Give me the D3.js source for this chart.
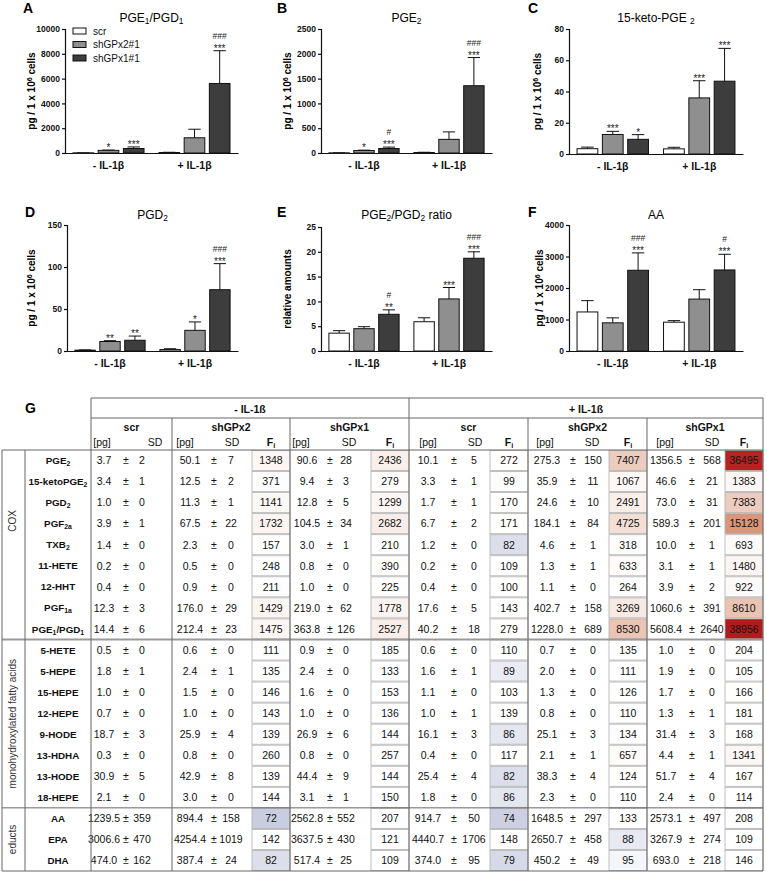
<!DOCTYPE html>
<html><head><meta charset="utf-8">
<script src="https://cdn.jsdelivr.net/npm/d3@7"></script>
<style>
body{margin:0;background:#fff;}
svg{font-family:"Liberation Sans",Arial,sans-serif;}
</style></head><body>
<svg id="c" width="767" height="873"></svg>
<script>
// ---------- chart data ----------
const groups = ["- IL-1β", "+ IL-1β"];
const series = ["scr", "shGPx2#1", "shGPx1#1"];
const seriesColors = ["#ffffff", "#8f8f8f", "#3d3d3d"];

const pge1Mean = [[14.4, 212.4, 363.8], [40.2, 1228.0, 5608.4]];
const pge1Sd   = [[6, 23, 126], [18, 689, 2640]];
const pge1Ticks = [0, 2000, 4000, 6000, 8000, 10000];
const pge1Sig = [[["",""],["*",""],["***",""]],[["",""],["",""],["***","###"]]];

const pge2Mean = [[3.7, 50.1, 90.6], [10.1, 275.3, 1356.5]];
const pge2Sd   = [[2, 7, 28], [5, 150, 568]];
const pge2Ticks = [0, 500, 1000, 1500, 2000, 2500];
const pge2Sig = [[["",""],["*",""],["***","#"]],[["",""],["",""],["***","###"]]];

const ketoMean = [[3.4, 12.5, 9.4], [3.3, 35.9, 46.6]];
const ketoSd   = [[1, 2, 3], [1, 11, 21]];
const ketoTicks = [0, 20, 40, 60, 80];
const ketoSig = [[["",""],["***",""],["*",""]],[["",""],["***",""],["***",""]]];

const pgd2Mean = [[1.0, 11.3, 12.8], [1.7, 24.6, 73.0]];
const pgd2Sd   = [[0.3, 1, 5], [1, 10, 31]];
const pgd2Ticks = [0, 50, 100, 150];
const pgd2Sig = [[["",""],["**",""],["**",""]],[["",""],["*",""],["***","###"]]];

const ratioMean = [[3.6, 4.5, 7.4], [5.9, 10.5, 18.7]];
const ratioSd   = [[0.5, 0.4, 0.9], [0.8, 2.3, 1.3]];
const ratioTicks = [0, 5, 10, 15, 20, 25];
const ratioSig = [[["",""],["",""],["**","#"]],[["",""],["***",""],["***","###"]]];

const aaMean = [[1239.5, 894.4, 2562.8], [914.7, 1648.5, 2573.1]];
const aaSd   = [[359, 158, 552], [50, 297, 497]];
const aaTicks = [0, 1000, 2000, 3000, 4000];
const aaSig = [[["",""],["",""],["***","###"]],[["",""],["",""],["***","#"]]];

// ---------- table data ----------
const rowNames = ["PGE_{2}","15-ketoPGE_{2}","PGD_{2}","PGF_{2a}","TXB_{2}","11-HETE","12-HHT","PGF_{1a}","PGE_{1}/PGD_{1}",
  "5-HETE","5-HEPE","15-HEPE","12-HEPE","9-HODE","13-HDHA","13-HODE","18-HEPE","AA","EPA","DHA"];
const rowCategories = ["COX","monohydroxylated fatty acids","educts"];
const rowCategoryCounts = [9, 8, 3];
const conditionLabels = ["- IL-1ß", "+ IL-1ß"];
const tableGroups = ["scr","shGPx2","shGPx1"];

const scrMinusPg = [3.7,3.4,1.0,3.9,1.4,0.2,0.4,12.3,14.4,0.5,1.8,1.0,0.7,18.7,0.3,30.9,2.1,1239.5,3006.6,474.0];
const scrMinusSd = [2,1,0,1,0,0,0,3,6,0,1,0,0,3,0,5,0,359,470,162];
const gpx2MinusPg = [50.1,12.5,11.3,67.5,2.3,0.5,0.9,176.0,212.4,0.6,2.4,1.5,1.0,25.9,0.8,42.9,3.0,894.4,4254.4,387.4];
const gpx2MinusSd = [7,2,1,22,0,0,0,29,23,0,1,0,0,4,0,8,0,158,1019,24];
const gpx2MinusFi = [1348,371,1141,1732,157,248,211,1429,1475,111,135,146,143,139,260,139,144,72,142,82];
const gpx1MinusPg = [90.6,9.4,12.8,104.5,3.0,0.8,1.0,219.0,363.8,0.9,2.4,1.6,1.0,26.9,0.8,44.4,3.1,2562.8,3637.5,517.4];
const gpx1MinusSd = [28,3,5,34,1,0,0,62,126,0,0,0,0,6,0,9,1,552,430,25];
const gpx1MinusFi = [2436,279,1299,2682,210,390,225,1778,2527,185,133,153,136,144,257,144,150,207,121,109];
const scrPlusPg = [10.1,3.3,1.7,6.7,1.2,0.2,0.4,17.6,40.2,0.6,1.6,1.1,1.0,16.1,0.4,25.4,1.8,914.7,4440.7,374.0];
const scrPlusSd = [5,1,1,2,0,0,0,5,18,0,1,0,1,3,0,4,0,50,1706,95];
const scrPlusFi = [272,99,170,171,82,109,100,143,279,110,89,103,139,86,117,82,86,74,148,79];
const gpx2PlusPg = [275.3,35.9,24.6,184.1,4.6,1.3,1.1,402.7,1228.0,0.7,2.0,1.3,0.8,25.1,2.1,38.3,2.3,1648.5,2650.7,450.2];
const gpx2PlusSd = [150,11,10,84,1,1,0,158,689,0,0,0,0,3,1,4,0,297,458,49];
const gpx2PlusFi = [7407,1067,2491,4725,318,633,264,3269,8530,135,111,126,110,134,657,124,110,133,88,95];
const gpx1PlusPg = [1356.5,46.6,73.0,589.3,10.0,3.1,3.9,1060.6,5608.4,1.0,1.9,1.7,1.3,31.4,4.4,51.7,2.4,2573.1,3267.9,693.0];
const gpx1PlusSd = [568,21,31,201,1,1,2,391,2640,0,0,0,1,3,1,4,0,497,274,218];
const gpx1PlusFi = [36495,1383,7383,15128,693,1480,922,8610,38956,204,105,166,181,168,1341,167,114,208,109,146];

// ---------- helpers ----------
const svg = d3.select("#c");
function richText(sel, str, fs) {
  const parts = str.split(/(_\{[^}]*\}|\^\{[^}]*\})/).filter(s => s.length);
  parts.forEach(p => {
    if (p.startsWith("_{")) sel.append("tspan").attr("baseline-shift", "-22%").attr("font-size", fs * 0.7).text(p.slice(2, -1));
    else if (p.startsWith("^{")) sel.append("tspan").attr("baseline-shift", "38%").attr("font-size", fs * 0.7).text(p.slice(2, -1));
    else sel.append("tspan").text(p);
  });
  return sel;
}

// ---------- charts ----------
const panels = [
  {letter:"A", title:"PGE_{1}/PGD_{1}", ylab:"pg / 1 x 10^{6} cells", mean:pge1Mean, sd:pge1Sd, ticks:pge1Ticks, sig:pge1Sig, legend:true},
  {letter:"B", title:"PGE_{2}", ylab:"pg / 1 x 10^{6} cells", mean:pge2Mean, sd:pge2Sd, ticks:pge2Ticks, sig:pge2Sig},
  {letter:"C", title:"15-keto-PGE _{2}", ylab:"pg / 1 x 10^{6} cells", mean:ketoMean, sd:ketoSd, ticks:ketoTicks, sig:ketoSig},
  {letter:"D", title:"PGD_{2}", ylab:"pg / 1 x 10^{6} cells", mean:pgd2Mean, sd:pgd2Sd, ticks:pgd2Ticks, sig:pgd2Sig},
  {letter:"E", title:"PGE_{2}/PGD_{2} ratio", ylab:"relative amounts", mean:ratioMean, sd:ratioSd, ticks:ratioTicks, sig:ratioSig},
  {letter:"F", title:"AA", ylab:"pg / 1 x 10^{6} cells", mean:aaMean, sd:aaSd, ticks:aaTicks, sig:aaSig}
];
const boxes = [
  {l:65, r:238, t:29, b:153, lx:23, ly:13, ylx:31, ty:22},
  {l:321, r:492, t:29, b:153, lx:277, ly:13, ylx:287, ty:22},
  {l:569, r:743, t:29, b:154, lx:528, ly:13, ylx:537, ty:22},
  {l:67, r:238, t:225, b:351, lx:25, ly:217, ylx:31, ty:219},
  {l:321, r:492, t:227, b:351, lx:277, ly:217, ylx:287, ty:219},
  {l:569, r:743, t:225, b:351, lx:528, ly:217, ylx:539, ty:219}
];

panels.forEach((p, i) => {
  const bx = boxes[i];
  const g = svg.append("g");
  const y = d3.scaleLinear().domain([0, d3.max(p.ticks)]).range([bx.b, bx.t]);
  const x0 = d3.scaleBand().domain(groups).range([bx.l, bx.r]).paddingInner(0.174).paddingOuter(0.093);
  const x1 = d3.scaleBand().domain(series).range([0, x0.bandwidth()]).paddingInner(0.18);

  g.append("text").attr("x", bx.lx).attr("y", bx.ly).attr("font-size", 14).attr("font-weight", "bold").text(p.letter);
  richText(g.append("text").attr("x", (bx.l + bx.r) / 2).attr("y", bx.ty).attr("text-anchor", "middle").attr("font-size", 12), p.title, 12);
  richText(g.append("text").attr("transform", `translate(${bx.ylx + 4},${(bx.t + bx.b) / 2}) rotate(-90)`)
    .attr("text-anchor", "middle").attr("font-size", 10).attr("font-weight", "bold"), p.ylab, 10);

  const ya = g.append("g").attr("transform", `translate(${bx.l},0)`)
    .call(d3.axisLeft(y).tickValues(p.ticks).tickSize(3).tickPadding(2).tickFormat(d3.format("d")));
  ya.selectAll("text").attr("font-size", 8.5).attr("font-weight", "bold").attr("fill", "#111").attr("font-family", "Liberation Sans, Arial, sans-serif");
  ya.selectAll("line,path").attr("stroke", "#111").attr("stroke-width", 1.2);

  const xa = g.append("g").attr("transform", `translate(0,${bx.b})`)
    .call(d3.axisBottom(x0).tickSize(0).tickPadding(9).tickSizeOuter(0));
  xa.selectAll("text").attr("font-size", 10.5).attr("font-weight", "bold").attr("fill", "#111").attr("font-family", "Liberation Sans, Arial, sans-serif");
  xa.select("path").attr("stroke", "#111").attr("stroke-width", 1.2);

  groups.forEach((gr, gi) => {
    series.forEach((s, si) => {
      const m = p.mean[gi][si], sd = p.sd[gi][si];
      const xl = x0(gr) + x1(s), w = x1.bandwidth(), cx = xl + w / 2;
      const et = y(m + sd);
      g.append("line").attr("x1", cx).attr("x2", cx).attr("y1", y(m)).attr("y2", et).attr("stroke", "#111").attr("stroke-width", 1);
      g.append("line").attr("x1", cx - w * 0.3).attr("x2", cx + w * 0.3).attr("y1", et).attr("y2", et).attr("stroke", "#111").attr("stroke-width", 1);
      g.append("rect").attr("x", xl).attr("y", y(m)).attr("width", w).attr("height", Math.max(0.5, y(0) - y(m)))
        .attr("fill", seriesColors[si]).attr("stroke", "#111").attr("stroke-width", 1);
      const [st, hs] = p.sig[gi][si];
      if (st) g.append("text").attr("x", cx).attr("y", et + 1).attr("text-anchor", "middle").attr("font-size", 10).attr("fill", "#222").text(st);
      if (hs) g.append("text").attr("x", cx).attr("y", et - 12).attr("text-anchor", "middle").attr("font-size", 8.5).attr("fill", "#222").text(hs);
    });
  });

  if (p.legend) {
    series.forEach((s, si) => {
      const ly = 31 + si * 13.5;
      g.append("rect").attr("x", 73).attr("y", ly - 3).attr("width", 13).attr("height", 6)
        .attr("fill", seriesColors[si]).attr("stroke", "#111").attr("stroke-width", 1);
      g.append("text").attr("x", 93).attr("y", ly + 3.5).attr("font-size", 10).attr("fill", "#111").text(s);
    });
  }
});

// ---------- table ----------
const T = svg.append("g");
const rowTop = 450, rowH = 21.05;
const nRows = rowNames.length;
const tBottom = rowTop + rowH * nRows;
const lineC = "#666";
const colsMeta = [
  {L:91, R:172, fi:null, pg:scrMinusPg, sd:scrMinusSd, o:[13,35,51], h:[11,64]},
  {L:172, R:290, fi:gpx2MinusFi, pg:gpx2MinusPg, sd:gpx2MinusSd, o:[18,42,59], h:[13,60]},
  {L:290, R:409, fi:gpx1MinusFi, pg:gpx1MinusPg, sd:gpx1MinusSd, o:[17,40,56], h:[11,59]},
  {L:409, R:528, fi:scrPlusFi, pg:scrPlusPg, sd:scrPlusSd, o:[19,45,65], h:[19,66]},
  {L:528, R:647, fi:gpx2PlusFi, pg:gpx2PlusPg, sd:gpx2PlusSd, o:[19,45,65], h:[17,64]},
  {L:647, R:763, fi:gpx1PlusFi, pg:gpx1PlusPg, sd:gpx1PlusSd, o:[19,45,65], h:[18,65]}
];
const fiHigh = d3.scaleLinear().domain([100, 15000, 38000]).range(["#ffffff", "#d9977a", "#b01c1c"]).clamp(true);
const fiLow = d3.scaleLinear().domain([70, 100]).range(["#c5c9de", "#ffffff"]).clamp(true);
const fiColor = v => v >= 100 ? fiHigh(v) : fiLow(v);

colsMeta.forEach(c => {
  if (!c.fi) return;
  const bl = c.R - 38;
  c.fi.forEach((v, r) => {
    T.append("rect").attr("x", bl).attr("y", rowTop + r * rowH + 0.5).attr("width", c.R - bl).attr("height", rowH - 1)
      .attr("fill", fiColor(v)).attr("stroke", "#b0b0b0").attr("stroke-width", 0.8);
    T.append("text").attr("x", bl + 19).attr("y", rowTop + r * rowH + rowH / 2 + 3.8).attr("text-anchor", "middle")
      .attr("font-size", 10.5).attr("fill", "#111").text(v);
  });
});

colsMeta.forEach(c => {
  c.pg.forEach((v, r) => {
    const yy = rowTop + r * rowH + rowH / 2 + 3.8;
    T.append("text").attr("x", c.L + c.o[0]).attr("y", yy).attr("text-anchor", "middle").attr("font-size", 10.5).attr("fill", "#111").text(v.toFixed(1));
    T.append("text").attr("x", c.L + c.o[1]).attr("y", yy).attr("text-anchor", "middle").attr("font-size", 10.5).attr("fill", "#111").text("±");
    T.append("text").attr("x", c.L + c.o[2]).attr("y", yy).attr("text-anchor", "middle").attr("font-size", 10.5).attr("fill", "#111").text(c.sd[r]);
  });
  T.append("text").attr("x", c.L + c.h[0]).attr("y", 446).attr("text-anchor", "middle").attr("font-size", 10.5).attr("fill", "#111").text("[pg]");
  T.append("text").attr("x", c.L + c.h[1]).attr("y", 446).attr("text-anchor", "middle").attr("font-size", 10.5).attr("fill", "#111").text("SD");
  if (c.fi) {
    const t = T.append("text").attr("x", c.R - 19).attr("y", 446).attr("text-anchor", "middle").attr("font-size", 10.5).attr("font-weight", "bold").attr("fill", "#111");
    richText(t, "F_{i}", 10.5);
  }
});
colsMeta.forEach((c, i) => {
  T.append("text").attr("x", (c.L + c.R) / 2).attr("y", 431).attr("text-anchor", "middle").attr("font-size", 10.5)
    .attr("font-weight", "bold").attr("fill", "#111").text(tableGroups[i % 3]);
});
T.append("text").attr("x", 250).attr("y", 413).attr("text-anchor", "middle").attr("font-size", 10.5).attr("font-weight", "bold").attr("fill", "#111").text(conditionLabels[0]);
T.append("text").attr("x", 586).attr("y", 413).attr("text-anchor", "middle").attr("font-size", 10.5).attr("font-weight", "bold").attr("fill", "#111").text(conditionLabels[1]);
T.append("text").attr("x", 25).attr("y", 413).attr("font-size", 14).attr("font-weight", "bold").text("G");

rowNames.forEach((n, r) => {
  richText(T.append("text").attr("x", 58).attr("y", rowTop + r * rowH + rowH / 2 + 3.6).attr("text-anchor", "middle")
    .attr("font-size", 9.8).attr("font-weight", "bold").attr("fill", "#111"), n, 9.8);
});
let acc = 0;
const catY = [];
rowCategories.forEach((cName, ci) => {
  const y0 = rowTop + acc * rowH, y1 = rowTop + (acc + rowCategoryCounts[ci]) * rowH;
  catY.push(y1);
  const cy = ci === 0 ? 521 : (y0 + y1) / 2;
  T.append("text").attr("transform", `translate(16,${cy}) rotate(-90)`).attr("text-anchor", "middle")
    .attr("font-size", 10).attr("fill", "#333").text(cName);
  acc += rowCategoryCounts[ci];
});

const hl = (x1, x2, yv, c, w) => T.append("line").attr("x1", x1).attr("x2", x2).attr("y1", yv).attr("y2", yv).attr("stroke", c).attr("stroke-width", w);
const vl = (xv, y1, y2, c, w) => T.append("line").attr("x1", xv).attr("x2", xv).attr("y1", y1).attr("y2", y2).attr("stroke", c).attr("stroke-width", w);
hl(91, 763, 398, lineC, 1);
hl(91, 763, 418, lineC, 1);
hl(2, 763, rowTop, lineC, 1);
hl(2, 763, catY[0], "#999", 2);
hl(2, 763, catY[1], lineC, 1);
hl(2, 763, tBottom, lineC, 1);
vl(2, rowTop, tBottom, lineC, 1);
vl(25, rowTop, tBottom, lineC, 1);
vl(91, 398, tBottom, lineC, 1);
vl(409, 398, tBottom, lineC, 1);
vl(763, 398, tBottom, lineC, 1);
[172, 290, 528, 647].forEach(xv => vl(xv, 418, tBottom, lineC, 1));
</script></body></html>
